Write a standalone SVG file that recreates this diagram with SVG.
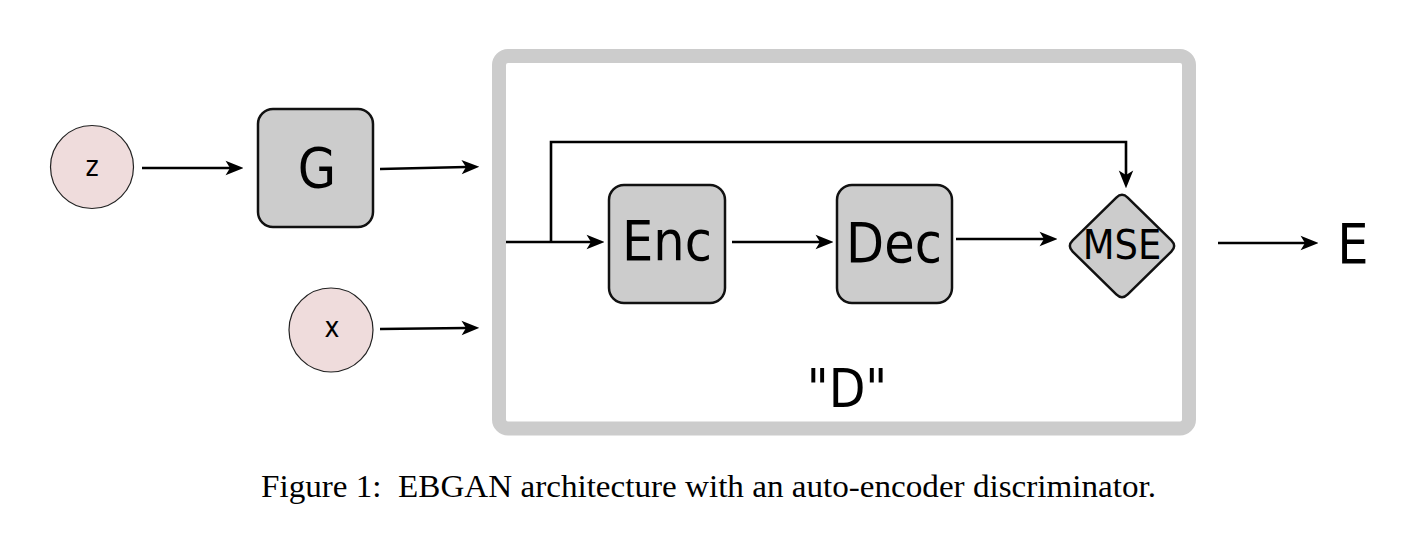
<svg xmlns="http://www.w3.org/2000/svg" width="1409" height="536" viewBox="0 0 1409 536">
<style>
.lbl{font-family:"DejaVu Sans Condensed","DejaVu Sans",sans-serif;font-stretch:condensed;fill:#000;text-anchor:middle}
.box{fill:#cccccc;stroke:#111;stroke-width:2.5}
.circ{fill:#efdcdc;stroke:#222;stroke-width:1.2}
.conn{fill:none;stroke:#000;stroke-width:2.6}
.cap{font-family:"Liberation Serif","Times New Roman",serif;font-size:32px;fill:#000;white-space:pre}
</style>
<defs>
<marker id="ah" markerUnits="userSpaceOnUse" markerWidth="20" markerHeight="20" viewBox="-6 -8 18 16" refX="0" refY="0" orient="auto">
<path d="M12,0 L-4,-6.5 L0,0 L-4,6.5 Z" fill="#000"/>
</marker>
</defs>
<rect width="1409" height="536" fill="#fff"/>
<g id="D-frame">
<rect x="499" y="56" width="690" height="372.5" rx="9" fill="#fff" stroke="#cccccc" stroke-width="14"/>
<text class="lbl" x="847" y="407" font-size="53">"D"</text>
</g>
<g id="connectors">
<path class="conn" marker-end="url(#ah)" d="M142,168 L230,168"/>
<path class="conn" marker-end="url(#ah)" d="M380,169 L466,167"/>
<path class="conn" marker-end="url(#ah)" d="M380,329 L466,328"/>
<path class="conn" marker-end="url(#ah)" d="M506,242 L591,242"/>
<path class="conn" stroke-width="2.2" marker-end="url(#ah)" d="M551,242 V142 H1126 V175"/>
<path class="conn" marker-end="url(#ah)" d="M732,242 L820,242"/>
<path class="conn" marker-end="url(#ah)" d="M956,239 L1044,239"/>
<path class="conn" marker-end="url(#ah)" d="M1218,243 L1305,243"/>
</g>
<g id="node-z">
<circle class="circ" cx="92" cy="167" r="41.5"/>
<text class="lbl" x="92" y="176" font-size="28">z</text>
</g>
<g id="node-x">
<circle class="circ" cx="331" cy="330" r="42"/>
<text class="lbl" x="332" y="337" font-size="28">x</text>
</g>
<g id="node-G">
<rect class="box" x="258" y="109" width="115" height="118" rx="15"/>
<text class="lbl" x="317" y="187" font-size="55">G</text>
</g>
<g id="node-Enc">
<rect class="box" x="609" y="185" width="116" height="118" rx="15"/>
<text class="lbl" x="667" y="260" font-size="55">Enc</text>
</g>
<g id="node-Dec">
<rect class="box" x="837" y="185" width="115" height="118" rx="15"/>
<text class="lbl" x="894" y="262" font-size="55">Dec</text>
</g>
<g id="node-MSE">
<path class="box" stroke-width="2" d="M1116.3,197.6 Q1122,192 1127.7,197.6 L1171.3,240.4 Q1177,246 1171.3,251.6 L1127.7,294.4 Q1122,300 1116.3,294.4 L1072.7,251.6 Q1067,246 1072.7,240.4 Z"/>
<text class="lbl" x="1122" y="259" font-size="41">MSE</text>
</g>
<g id="node-E">
<text class="lbl" x="1353" y="263" font-size="55">E</text>
</g>
<text class="cap" x="261" y="497" textLength="895" lengthAdjust="spacingAndGlyphs">Figure 1:  EBGAN architecture with an auto-encoder discriminator.</text>
</svg>
